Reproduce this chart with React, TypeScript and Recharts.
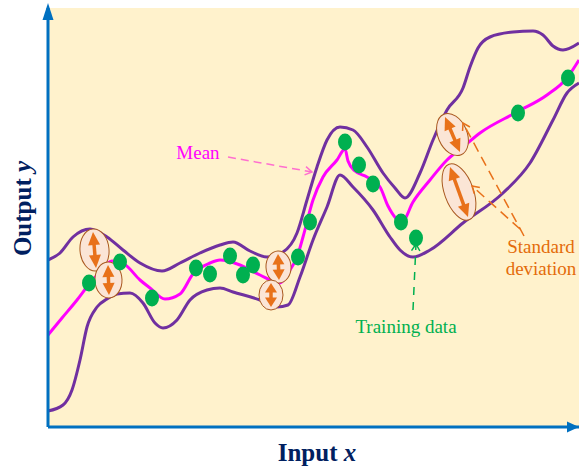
import React from 'react';
import {
  ComposedChart,
  Line,
  Scatter,
  XAxis,
  YAxis,
  CartesianGrid,
  ReferenceLine,
  ReferenceDot,
} from 'recharts';

// curves (x: input, y: output)
const upperBound = [
  { x: 0, y: 167 }, { x: 12, y: 174 }, { x: 25, y: 190 }, { x: 42, y: 198 }, { x: 59, y: 190 },
  { x: 75, y: 177 }, { x: 92, y: 164 }, { x: 114, y: 156 }, { x: 132, y: 164 }, { x: 152, y: 174 },
  { x: 172, y: 182 }, { x: 185, y: 185 }, { x: 202, y: 176 }, { x: 219, y: 170 }, { x: 235, y: 175 },
  { x: 249, y: 194 }, { x: 259, y: 227 }, { x: 269, y: 260 }, { x: 279, y: 287 }, { x: 292, y: 300 },
  { x: 305, y: 297 }, { x: 319, y: 280 }, { x: 335, y: 254 }, { x: 347, y: 239 }, { x: 357, y: 229 },
  { x: 372, y: 254 }, { x: 385, y: 287 }, { x: 399, y: 317 }, { x: 415, y: 339 }, { x: 422, y: 360 },
  { x: 430, y: 379 }, { x: 442, y: 390 }, { x: 465, y: 395 }, { x: 485, y: 396 }, { x: 495, y: 392 },
  { x: 505, y: 381 }, { x: 515, y: 377 }, { x: 531, y: 384 },
];

const meanCurve = [
  { x: 0, y: 92 }, { x: 14, y: 109 }, { x: 29, y: 127 }, { x: 42, y: 144 }, { x: 52, y: 155 },
  { x: 64, y: 166 }, { x: 76, y: 163 }, { x: 92, y: 147 }, { x: 102, y: 139 }, { x: 117, y: 128 },
  { x: 132, y: 133 }, { x: 145, y: 153 }, { x: 162, y: 164 }, { x: 172, y: 167 }, { x: 192, y: 162 },
  { x: 212, y: 152 }, { x: 232, y: 144 }, { x: 242, y: 157 }, { x: 249, y: 170 }, { x: 255, y: 190 },
  { x: 265, y: 227 }, { x: 275, y: 250 }, { x: 289, y: 267 }, { x: 297, y: 278 }, { x: 300, y: 266 },
  { x: 307, y: 256 }, { x: 319, y: 250 }, { x: 332, y: 240 }, { x: 340, y: 221 }, { x: 354, y: 205 },
  { x: 365, y: 225 }, { x: 382, y: 247 }, { x: 399, y: 267 }, { x: 415, y: 280 }, { x: 432, y: 294 },
  { x: 469, y: 315 }, { x: 499, y: 332 }, { x: 519, y: 349 }, { x: 531, y: 367 },
];

const lowerBound = [
  { x: 0, y: 16 }, { x: 15, y: 22 }, { x: 24, y: 37 }, { x: 32, y: 67 }, { x: 39, y: 100 },
  { x: 49, y: 120 }, { x: 59, y: 128 }, { x: 69, y: 133 }, { x: 82, y: 134 }, { x: 95, y: 124 },
  { x: 107, y: 104 }, { x: 115, y: 99 }, { x: 129, y: 107 }, { x: 142, y: 127 }, { x: 159, y: 137 },
  { x: 172, y: 139 }, { x: 185, y: 135 }, { x: 212, y: 127 }, { x: 229, y: 120 }, { x: 240, y: 122 },
  { x: 252, y: 150 }, { x: 265, y: 187 }, { x: 279, y: 220 }, { x: 292, y: 252 }, { x: 305, y: 240 },
  { x: 325, y: 217 }, { x: 342, y: 190 }, { x: 352, y: 177 }, { x: 365, y: 170 }, { x: 382, y: 177 },
  { x: 415, y: 204 }, { x: 455, y: 234 }, { x: 482, y: 264 }, { x: 505, y: 307 }, { x: 519, y: 334 },
  { x: 531, y: 344 },
];

const trainingData = [
  { x: 41, y: 144 }, { x: 72, y: 165 }, { x: 104, y: 129 }, { x: 148, y: 159 }, { x: 162, y: 153 },
  { x: 182, y: 171 }, { x: 195, y: 152 }, { x: 205, y: 162 }, { x: 250, y: 170 }, { x: 262, y: 205 },
  { x: 297, y: 285 }, { x: 311, y: 262 }, { x: 325, y: 243 }, { x: 353, y: 205 }, { x: 368, y: 189 },
  { x: 470, y: 314 }, { x: 520, y: 349 },
];

// std-dev arrows: from mean to bound
const stdMarkers = [
  { x1: 45, y1: 195, x2: 48, y2: 159 },
  { x1: 60, y1: 162, x2: 61, y2: 132 },
  { x1: 230, y1: 173, x2: 231, y2: 147 },
  { x1: 223, y1: 144, x2: 223, y2: 120 },
  { x1: 397, y1: 310, x2: 412, y2: 275 },
  { x1: 402, y1: 260, x2: 420, y2: 210 },
];

const pointers = [
  { kind: 'mean', x1: 180, y1: 270, x2: 264, y2: 255 },
  { kind: 'train', x1: 365, y1: 117, x2: 368, y2: 183 },
  { kind: 'std', x1: 476, y1: 191, x2: 415, y2: 304 },
  { kind: 'std', x1: 472, y1: 198, x2: 424, y2: 241 },
];

const notes = [
  { kind: 'mean', text: 'Mean', x: 150, y: 268 },
  { kind: 'train', text: 'Training data', x: 358, y: 94 },
  { kind: 'std', text: 'Standard', x: 493, y: 174 },
  { kind: 'std', text: 'deviation', x: 493, y: 152 },
];

const SERIF = '"Liberation Serif", "Times New Roman", serif';
const AXIS = '#0070C0';
const TITLE = '#002060';
const ORANGE = '#E8711A';

const noteColor: Record<string, string> = { mean: '#FF00FF', train: '#00B050', std: '#E46C0A' };
const pointerColor: Record<string, string> = { mean: '#FF6FCF', train: '#00B050', std: '#E8711A' };
const pointerDash: Record<string, string> = { mean: '8 5', train: '8 7', std: '10 6' };

const StdMarker = (props: any) => {
  const { x1, y1, x2, y2 } = props;
  const dx = x2 - x1;
  const dy = y2 - y1;
  const len = Math.hypot(dx, dy);
  const ux = dx / len;
  const uy = dy / len;
  const nx = -uy;
  const ny = ux;
  const cx = (x1 + x2) / 2;
  const cy = (y1 + y2) / 2;
  const ang = (Math.atan2(dy, dx) * 180) / Math.PI;
  const rx = len / 2 + 3;
  const ry = Math.min(14.5, len * 0.25 + 6);
  const head = Math.min(13, len * 0.4);
  const hw = 6;
  const tri = (tx: number, ty: number, dx2: number, dy2: number) =>
    `${tx},${ty} ${tx - dx2 * head + nx * hw},${ty - dy2 * head + ny * hw} ${tx - dx2 * head - nx * hw},${ty - dy2 * head - ny * hw}`;
  return (
    <g>
      <ellipse
        cx={cx}
        cy={cy}
        rx={rx}
        ry={ry}
        transform={`rotate(${ang} ${cx} ${cy})`}
        fill="#FBE5D6"
        stroke="#A9581F"
        strokeWidth={1}
      />
      <line
        x1={x1 + ux * (head - 1)}
        y1={y1 + uy * (head - 1)}
        x2={x2 - ux * (head - 1)}
        y2={y2 - uy * (head - 1)}
        stroke={ORANGE}
        strokeWidth={3.5}
      />
      <polygon points={tri(x1, y1, -ux, -uy)} fill={ORANGE} />
      <polygon points={tri(x2, y2, ux, uy)} fill={ORANGE} />
    </g>
  );
};

const Pointer = (props: any) => {
  const { x1, y1, x2, y2, kind } = props;
  const a = Math.atan2(y2 - y1, x2 - x1);
  const len = 8;
  const sp = 0.55;
  const color = pointerColor[kind];
  return (
    <g>
      <line x1={x1} y1={y1} x2={x2} y2={y2} stroke={color} strokeWidth={1.5} strokeDasharray={pointerDash[kind]} />
      <polyline
        points={`${x2 - len * Math.cos(a - sp)},${y2 - len * Math.sin(a - sp)} ${x2},${y2} ${x2 - len * Math.cos(a + sp)},${y2 - len * Math.sin(a + sp)}`}
        fill="none"
        stroke={color}
        strokeWidth={1.5}
      />
    </g>
  );
};

const GreenDot = (props: any) => <ellipse cx={props.cx} cy={props.cy} rx={7} ry={8.5} fill="#00B050" />;

const XTitle = (props: any) => {
  const vb = props.viewBox || { x: 48, y: 427, width: 531, height: 44 };
  return (
    <text x={vb.x + 269} y={vb.y + 34} textAnchor="middle" fill={TITLE} fontFamily={SERIF} fontWeight="bold" fontSize={25}>
      Input <tspan fontStyle="italic">x</tspan>
    </text>
  );
};

const YTitle = (props: any) => {
  const vb = props.viewBox || { x: 0, y: 8, width: 48, height: 419 };
  const cx = vb.x + 31;
  const cy = 208.5;
  return (
    <text
      x={cx}
      y={cy}
      transform={`rotate(-90 ${cx} ${cy})`}
      textAnchor="middle"
      fill={TITLE}
      fontFamily={SERIF}
      fontWeight="bold"
      fontSize={25}
    >
      Output <tspan fontStyle="italic">y</tspan>
    </text>
  );
};

export default function App() {
  return (
    <div style={{ position: 'absolute', left: 0, top: 0, width: 579, height: 471, background: '#fff' }}>
      <ComposedChart width={579} height={471} margin={{ top: 8, right: 0, bottom: 0, left: 0 }}>
        <CartesianGrid fill="#FFF2CC" horizontal={false} vertical={false} stroke="none" />
        <XAxis
          type="number"
          dataKey="x"
          domain={[0, 531]}
          height={44}
          tick={false}
          tickLine={false}
          axisLine={{ stroke: AXIS, strokeWidth: 3 }}
          label={<XTitle />}
        />
        <YAxis
          type="number"
          dataKey="y"
          domain={[0, 419]}
          width={48}
          tick={false}
          tickLine={false}
          axisLine={{ stroke: AXIS, strokeWidth: 3 }}
          label={<YTitle />}
        />
        <Line data={upperBound} dataKey="y" type="monotone" stroke="#7030A0" strokeWidth={3} dot={false} activeDot={false} isAnimationActive={false} />
        <Line data={lowerBound} dataKey="y" type="monotone" stroke="#7030A0" strokeWidth={3} dot={false} activeDot={false} isAnimationActive={false} />
        <Line data={meanCurve} dataKey="y" type="monotone" stroke="#FF00FF" strokeWidth={3} dot={false} activeDot={false} isAnimationActive={false} />
        {stdMarkers.map((m, i) => (
          <ReferenceLine
            key={`std-${i}`}
            segment={[{ x: m.x1, y: m.y1 }, { x: m.x2, y: m.y2 }]}
            ifOverflow="visible"
            shape={(p: any) => <StdMarker {...p} />}
          />
        ))}
        <Scatter data={trainingData} dataKey="y" shape={<GreenDot />} isAnimationActive={false} />
        {pointers.map((p, i) => (
          <ReferenceLine
            key={`ptr-${i}`}
            segment={[{ x: p.x1, y: p.y1 }, { x: p.x2, y: p.y2 }]}
            ifOverflow="visible"
            shape={(sp: any) => <Pointer {...sp} kind={p.kind} />}
          />
        ))}
        {notes.map((n, i) => (
          <ReferenceDot
            key={`note-${i}`}
            x={n.x}
            y={n.y}
            r={0}
            ifOverflow="visible"
            shape={(sp: any) => (
              <text x={sp.cx} y={sp.cy} textAnchor="middle" fill={noteColor[n.kind]} fontFamily={SERIF} fontSize={19}>
                {n.text}
              </text>
            )}
          />
        ))}
        <ReferenceDot
          x={0}
          y={419}
          r={0}
          ifOverflow="visible"
          shape={(sp: any) => (
            <polygon points={`${sp.cx},${sp.cy - 5} ${sp.cx - 5.5},${sp.cy + 12} ${sp.cx + 5.5},${sp.cy + 12}`} fill={AXIS} />
          )}
        />
        <ReferenceDot
          x={531}
          y={0}
          r={0}
          ifOverflow="visible"
          shape={(sp: any) => (
            <polygon points={`${sp.cx},${sp.cy} ${sp.cx - 12},${sp.cy - 5.5} ${sp.cx - 12},${sp.cy + 5.5}`} fill={AXIS} />
          )}
        />
      </ComposedChart>
    </div>
  );
}
